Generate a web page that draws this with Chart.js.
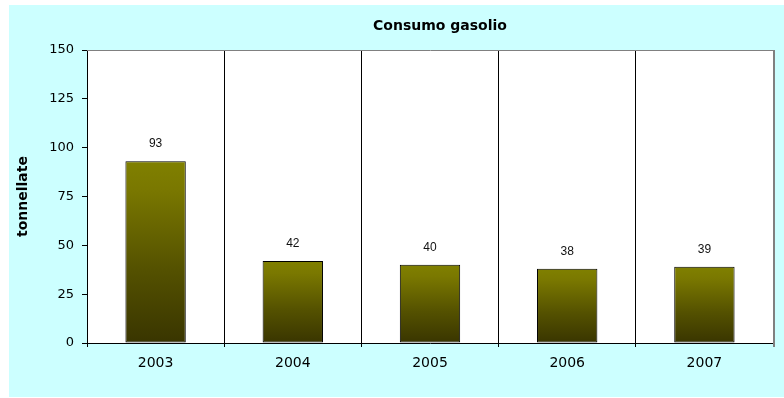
<!DOCTYPE html>
<html><head><meta charset="utf-8">
<script src="https://cdn.jsdelivr.net/npm/chart.js@4"></script>
<style>html,body{margin:0;padding:0;background:#fff}canvas{display:block}</style>
</head><body>
<canvas id="c" width="784" height="398"></canvas>
<script>
const categories = ['2003', '2004', '2005', '2006', '2007'];
const consumo = [93, 42, 40, 38, 39];
const yTicks = [0, 25, 50, 75, 100, 125, 150];
const chartTitle = 'Consumo gasolio';
const yTitle = 'tonnellate';

const bgPlugin = {
  id: 'bg',
  beforeDraw(chart) {
    const {ctx, chartArea: a} = chart;
    ctx.save();
    ctx.fillStyle = '#ffffff';
    ctx.fillRect(0, 0, chart.width, chart.height);
    ctx.fillStyle = '#ccffff';
    ctx.fillRect(9, 5, chart.width - 9, chart.height - 6);
    ctx.fillStyle = '#ffffff';
    ctx.fillRect(a.left, a.top, a.right - a.left, a.bottom - a.top);
    ctx.restore();
  },
  afterLayout(chart) {
    const t = chart.titleBlock;
    if (t) { t.left += 10; t.right += 10; }
  },
  afterDatasetsDraw(chart) {
    const {ctx, chartArea: a} = chart;
    ctx.save();
    ctx.strokeStyle = '#808080';
    ctx.lineWidth = 1;
    ctx.beginPath();
    ctx.moveTo(a.left, a.top + 0.5);
    ctx.lineTo(a.right + 1, a.top + 0.5);
    ctx.stroke();
    ctx.lineWidth = 2;
    ctx.beginPath();
    ctx.moveTo(a.right + 1, a.top);
    ctx.lineTo(a.right + 1, a.bottom + 4);
    ctx.stroke();
    ctx.fillStyle = '#111';
    ctx.font = '12px "Liberation Sans", Arial, sans-serif';
    ctx.textAlign = 'center';
    ctx.textBaseline = 'middle';
    const meta = chart.getDatasetMeta(0);
    meta.data.forEach((el, i) => {
      ctx.fillText(String(consumo[i]), el.x, el.y - 17.5);
    });
    ctx.restore();
  }
};

function barGradient(c) {
  const chart = c.chart;
  if (!chart.chartArea || !chart.scales.y) return '#808000';
  const y = chart.scales.y.getPixelForValue(c.raw);
  const base = chart.scales.y.getPixelForValue(0);
  const g = chart.ctx.createLinearGradient(0, y, 0, base);
  g.addColorStop(0, '#808000');
  g.addColorStop(0.15, '#7a7800');
  g.addColorStop(0.6, '#545100');
  g.addColorStop(1, '#393500');
  return g;
}

new Chart(document.getElementById('c'), {
  type: 'bar',
  data: {
    labels: categories,
    datasets: [{
      data: consumo,
      backgroundColor: barGradient,
      borderColor: '#000',
      borderWidth: 1,
      borderSkipped: false,
      categoryPercentage: 1,
      barPercentage: 0.44
    }]
  },
  plugins: [bgPlugin],
  options: {
    responsive: false,
    animation: false,
    devicePixelRatio: 1,
    layout: { padding: { left: 9, right: 11, top: 0, bottom: 0 } },
    plugins: {
      legend: { display: false },
      tooltip: { enabled: false },
      title: {
        display: true,
        text: chartTitle,
        fullSize: false,
        color: '#000',
        font: { family: '"DejaVu Sans", sans-serif', size: 14, weight: 'bold' },
        padding: { top: 18, bottom: 15.2 }
      }
    },
    scales: {
      x: {
        grid: {
          color: (c) => c.index === categories.length ? '#808080' : '#000',
          tickLength: 4,
          offset: true,
          drawOnChartArea: true
        },
        border: { color: '#000' },
        ticks: {
          color: '#000',
          padding: 8,
          font: { family: '"DejaVu Sans", sans-serif', size: 14 }
        },
        afterFit(s) { s.height = 55; }
      },
      y: {
        min: yTicks[0],
        max: yTicks[yTicks.length - 1],
        ticks: {
          stepSize: yTicks[1] - yTicks[0],
          color: '#000',
          padding: 8,
          font: { family: '"DejaVu Sans", sans-serif', size: 13 }
        },
        grid: { drawOnChartArea: false, color: '#000', tickLength: 5 },
        border: { color: '#000' },
        title: {
          display: true,
          text: yTitle,
          color: '#000',
          padding: { top: 6, bottom: 0 },
          font: { family: '"DejaVu Sans", sans-serif', size: 14, weight: 'bold' }
        },
        afterFit(s) { s.width = 78; }
      }
    }
  }
});
</script>
</body></html>
